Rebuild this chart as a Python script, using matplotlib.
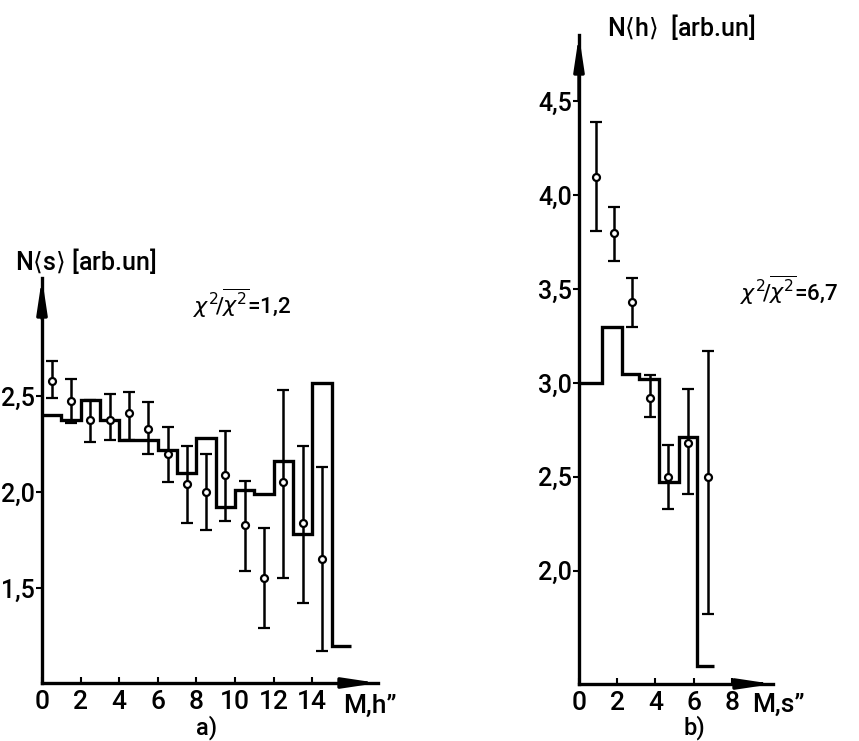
import matplotlib

matplotlib.use("Agg")
import matplotlib.pyplot as plt
import numpy as np

W, H = 859, 741

# ---- panel a: N<s> vs M,h'' ----
A_EDGES = list(range(0, 17))
A_HIST = [2.40, 2.375, 2.48, 2.375, 2.27, 2.27, 2.22, 2.10,
          2.28, 1.92, 2.01, 1.99, 2.16, 1.78, 2.57, 1.20]
A_X = [0.5, 1.5, 2.5, 3.5, 4.5, 5.5, 6.5, 7.5, 8.5, 9.5, 10.5, 11.5, 12.5, 13.5, 14.5]
A_Y = [2.58, 2.475, 2.375, 2.375, 2.41, 2.33, 2.20, 2.04, 2.00, 2.09, 1.83, 1.55, 2.05, 1.84, 1.65]
A_TOP = [2.68, 2.59, 2.48, 2.51, 2.52, 2.47, 2.34, 2.24, 2.20, 2.32, 2.06, 1.81, 2.53, 2.24, 2.13]
A_BOT = [2.49, 2.36, 2.26, 2.27, 2.27, 2.20, 2.05, 1.84, 1.80, 1.85, 1.59, 1.29, 1.55, 1.42, 1.17]
A_XTICKS = [0, 2, 4, 6, 8, 10, 12, 14]
A_YTICKS = [1.5, 2.0, 2.5]
A_YLABELS = ["1,5", "2,0", "2,5"]

# ---- panel b: N<h> vs M,s'' ----
B_EDGES = [0, 1.2, 2.23, 3.16, 4.2, 5.26, 6.2, 7.05]
B_HIST = [3.00, 3.30, 3.05, 3.02, 2.47, 2.71, 1.49]
B_X = [0.88, 1.84, 2.80, 3.72, 4.68, 5.70, 6.77]
B_Y = [4.10, 3.80, 3.43, 2.92, 2.50, 2.68, 2.50]
B_TOP = [4.39, 3.94, 3.56, 3.04, 2.67, 2.97, 3.17]
B_BOT = [3.81, 3.65, 3.30, 2.82, 2.33, 2.41, 1.77]
B_XTICKS = [0, 2, 4, 6, 8]
B_YTICKS = [2.0, 2.5, 3.0, 3.5, 4.0, 4.5]
B_YLABELS = ["2,0", "2,5", "3,0", "3,5", "4,0", "4,5"]

plt.rcParams.update({"font.family": ["Roboto", "DejaVu Sans"],
                     "font.weight": "medium",
                     "mathtext.fontset": "dejavusans"})


def box(l, t, r, b):
    # pixel box -> figure fraction [left, bottom, width, height]
    return [l / W, 1 - b / H, (r - l) / W, (b - t) / H]


def frame(ax, xticks, yticks, ylabels):
    for s in ("top", "right"):
        ax.spines[s].set_visible(False)
    for s in ("left", "bottom"):
        ax.spines[s].set_linewidth(2.4)
    ax.set_xticks(xticks)
    ax.set_xticklabels([str(t) for t in xticks], fontsize=19)
    ax.set_yticks(yticks)
    ax.set_yticklabels(ylabels, fontsize=18)
    ax.tick_params(axis="x", direction="in", length=4, width=1.5, pad=5)
    ax.tick_params(axis="y", direction="out", length=4, width=1.5, pad=1)
    ax.patch.set_alpha(0)
    kw = dict(xycoords="axes fraction", textcoords="axes fraction",
              arrowprops=dict(arrowstyle="-|>,head_length=1.0,head_width=0.15",
                              mutation_scale=20, color="black", lw=2.4,
                              shrinkA=0, shrinkB=0))
    ax.annotate("", xy=(0, 1.0), xytext=(0, 0.9), **kw)
    ax.annotate("", xy=(1.0, 0), xytext=(0.9, 0), **kw)


def draw(ax, edges, hist, x, y, top, bot):
    ax.stairs(hist, edges, baseline=None, color="black", lw=2.4)
    y = np.array(y)
    yerr = [y - np.array(bot), np.array(top) - y]
    ax.errorbar(x, y, yerr=yerr, fmt="o", ms=5, mfc="white", mec="black", mew=1.6,
                ecolor="black", elinewidth=1.8, capsize=4, capthick=1.8)


fig = plt.figure(figsize=(W / 100, H / 100), dpi=100)

axA = fig.add_axes(box(42, 278, 378, 683))
axA.set_xlim(0, 17.4)
axA.set_ylim(1.005, 3.115)
frame(axA, A_XTICKS, A_YTICKS, A_YLABELS)
draw(axA, A_EDGES, A_HIST, A_X, A_Y, A_TOP, A_BOT)

axB = fig.add_axes(box(579, 35, 773, 684))
axB.set_xlim(0, 10.16)
axB.set_ylim(1.396, 4.854)
frame(axB, B_XTICKS, B_YTICKS, B_YLABELS)
draw(axB, B_EDGES, B_HIST, B_X, B_Y, B_TOP, B_BOT)


def ftext(px, py, s, size, ha="left", **kw):
    fig.text(px / W, 1 - py / H, s, fontsize=size, ha=ha, va="center", **kw)


ftext(15, 261, r"N$\langle$s$\rangle$ [arb.un]", 18)
ftext(607, 27, r"N$\langle$h$\rangle$  [arb.un]", 18)
ftext(193, 303, r"$\chi^2\!/\overline{\chi^2}$=1,2", 16)
ftext(740, 290, r"$\chi^2\!/\overline{\chi^2}$=6,7", 16)
ftext(343, 706, "M,h\u201d", 19)
ftext(752, 705, "M,s\u201d", 19)
ftext(207, 728, "a)", 17, ha="center")
ftext(694, 728, "b)", 17, ha="center")

fig.savefig("out.png", dpi=100)
